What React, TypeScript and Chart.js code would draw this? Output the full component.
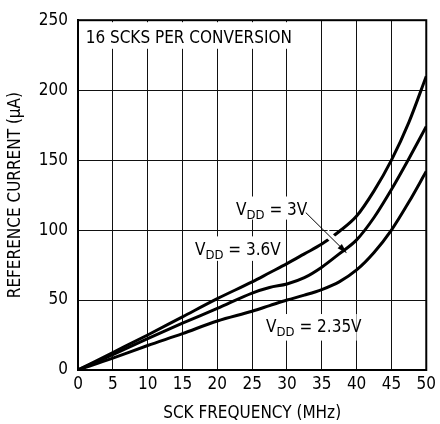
import React, { useEffect, useRef } from "react";
import { Chart, registerables } from "chart.js";

Chart.register(...registerables);

const freqMHz = [0, 5, 10, 15, 20, 25, 27.5, 30, 32.5, 35, 37.5, 40, 42.5, 45, 47.5, 50];
const vdd36 = [0, 12.5, 25, 38, 51, 63, 69.5, 76, 83, 90, 99, 110, 128, 150, 177, 210];
const vdd3 = [0, 11, 22.5, 33.5, 44, 55, 59, 61.5, 66, 73.5, 83, 93, 109, 129, 151, 174];
const vdd235 = [0, 8.5, 17.5, 26, 35, 42, 46, 50, 53.5, 57.5, 63, 71.5, 84, 100, 120, 142];
const xTicks = [0, 5, 10, 15, 20, 25, 30, 35, 40, 45, 50];
const yTicks = [0, 50, 100, 150, 200, 250];

const FONT = "'DejaVu Sans Condensed', 'Liberation Sans', sans-serif";

function pts(vals: number[]) {
  return freqMHz.map((f, i) => ({ x: f, y: vals[i] }));
}

const annotations = {
  id: "annotations",
  beforeDatasetsDraw(chart: any) {
    const ctx = chart.ctx;
    const xs = chart.scales.x;
    const ys = chart.scales.y;
    const px = (v: number) => xs.getPixelForValue(v);
    const py = (v: number) => ys.getPixelForValue(v);
    ctx.save();
    ctx.fillStyle = "#fff";
    ctx.fillRect(px(0) + 2, py(250) + 2, px(31.2) - px(0) - 2, py(231) - py(250));
    ctx.fillRect(px(22.5), py(124), px(32.3) - px(22.5), py(107.5) - py(124));
    ctx.fillRect(px(16.5), py(95.5), px(28.5) - px(16.5), py(78) - py(95.5));
    ctx.fillRect(px(26.5), py(40), px(40.0) - px(26.5), py(21) - py(40));
    ctx.fillStyle = "#000";
    ctx.textBaseline = "alphabetic";
    ctx.textAlign = "left";
    ctx.font = `17px ${FONT}`;
    ctx.fillText("16 SCKS PER CONVERSION", px(1.1), py(233.5));

    const sub = (x: number, y: number, rest: string) => {
      ctx.font = `17px ${FONT}`;
      ctx.fillText("V", x, y);
      let w = ctx.measureText("V").width;
      ctx.font = `13px ${FONT}`;
      ctx.fillText("DD", x + w, y + 4);
      w += ctx.measureText("DD").width;
      ctx.font = `17px ${FONT}`;
      ctx.fillText(rest, x + w, y);
    };
    sub(px(22.7), py(110.5), " = 3V");
    sub(px(16.8), py(82), " = 3.6V");
    sub(px(27.0), py(27), " = 2.35V");
    ctx.restore();
  },
  afterDatasetsDraw(chart: any) {
    const ctx = chart.ctx;
    const xs = chart.scales.x;
    const ys = chart.scales.y;
    const px = (v: number) => xs.getPixelForValue(v);
    const py = (v: number) => ys.getPixelForValue(v);
    const x1 = px(32.7), y1 = py(112.5);
    const x2 = px(38.6), y2 = py(83.5);
    const ang = Math.atan2(y2 - y1, x2 - x1);
    ctx.save();
    ctx.strokeStyle = "#fff";
    ctx.lineWidth = 7;
    ctx.beginPath();
    ctx.moveTo(px(35.6), py(98.5));
    ctx.lineTo(px(37.4), py(89.5));
    ctx.stroke();
    ctx.strokeStyle = "#000";
    ctx.lineWidth = 1;
    ctx.beginPath();
    ctx.moveTo(x1, y1);
    ctx.lineTo(x2 - 6 * Math.cos(ang), y2 - 6 * Math.sin(ang));
    ctx.stroke();
    ctx.fillStyle = "#000";
    ctx.beginPath();
    ctx.moveTo(x2, y2);
    ctx.lineTo(x2 - 10 * Math.cos(ang) + 3 * Math.sin(ang), y2 - 10 * Math.sin(ang) - 3 * Math.cos(ang));
    ctx.lineTo(x2 - 10 * Math.cos(ang) - 3 * Math.sin(ang), y2 - 10 * Math.sin(ang) + 3 * Math.cos(ang));
    ctx.closePath();
    ctx.fill();
    ctx.restore();
  },
};

export default function App() {
  const ref = useRef<HTMLCanvasElement | null>(null);
  useEffect(() => {
    if (!ref.current) return;
    const ds = (label: string, vals: number[]) => ({
      label,
      data: pts(vals),
      borderColor: "#000",
      borderWidth: 3,
      pointRadius: 0,
      fill: false,
      cubicInterpolationMode: "monotone" as const,
    });
    const chart = new Chart(ref.current, {
      type: "line",
      data: {
        datasets: [ds("VDD = 3.6V", vdd36), ds("VDD = 3V", vdd3), ds("VDD = 2.35V", vdd235)],
      },
      options: {
        responsive: false,
        animation: false,
        layout: { padding: { top: 19, right: 11, left: 0, bottom: 0 } },
        plugins: { legend: { display: false }, tooltip: { enabled: false } },
        scales: {
          x: {
            type: "linear",
            min: 0,
            max: 50,
            afterBuildTicks: (s: any) => {
              s.ticks = xTicks.map((v) => ({ value: v }));
            },
            afterFit: (s: any) => {
              s.height = 54;
            },
            grid: { color: "#111", lineWidth: 1, drawTicks: false },
            border: { color: "#000", width: 2 },
            ticks: { color: "#000", font: { family: FONT, size: 17 }, padding: 4, maxRotation: 0 },
            title: {
              display: true,
              text: "SCK FREQUENCY (MHz)",
              color: "#000",
              font: { family: FONT, size: 17 },
              padding: { top: 3, bottom: 0 },
            },
          },
          y: {
            type: "linear",
            min: 0,
            max: 250,
            afterBuildTicks: (s: any) => {
              s.ticks = yTicks.map((v) => ({ value: v }));
            },
            afterFit: (s: any) => {
              s.width = 78;
            },
            grid: { color: "#111", lineWidth: 1, drawTicks: false },
            border: { color: "#000", width: 2 },
            ticks: { color: "#000", font: { family: FONT, size: 17 }, padding: 10 },
            title: {
              display: true,
              text: "REFERENCE CURRENT (µA)",
              color: "#000",
              font: { family: FONT, size: 17 },
              padding: { top: 5, bottom: 0 },
            },
          },
        },
      },
      plugins: [
        annotations,
        {
          id: "frame",
          afterDraw(chart: any) {
            const { left, right, top, bottom } = chart.chartArea;
            const ctx = chart.ctx;
            ctx.save();
            ctx.strokeStyle = "#000";
            ctx.lineWidth = 2;
            ctx.strokeRect(left, top, right - left, bottom - top);
            ctx.restore();
          },
        },
      ],
    });
    return () => chart.destroy();
  }, []);
  return (
    <div style={{ position: "fixed", left: 0, top: 0, width: 440, height: 424, background: "#fff" }}>
      <canvas ref={ref} width={440} height={424} />
    </div>
  );
}
